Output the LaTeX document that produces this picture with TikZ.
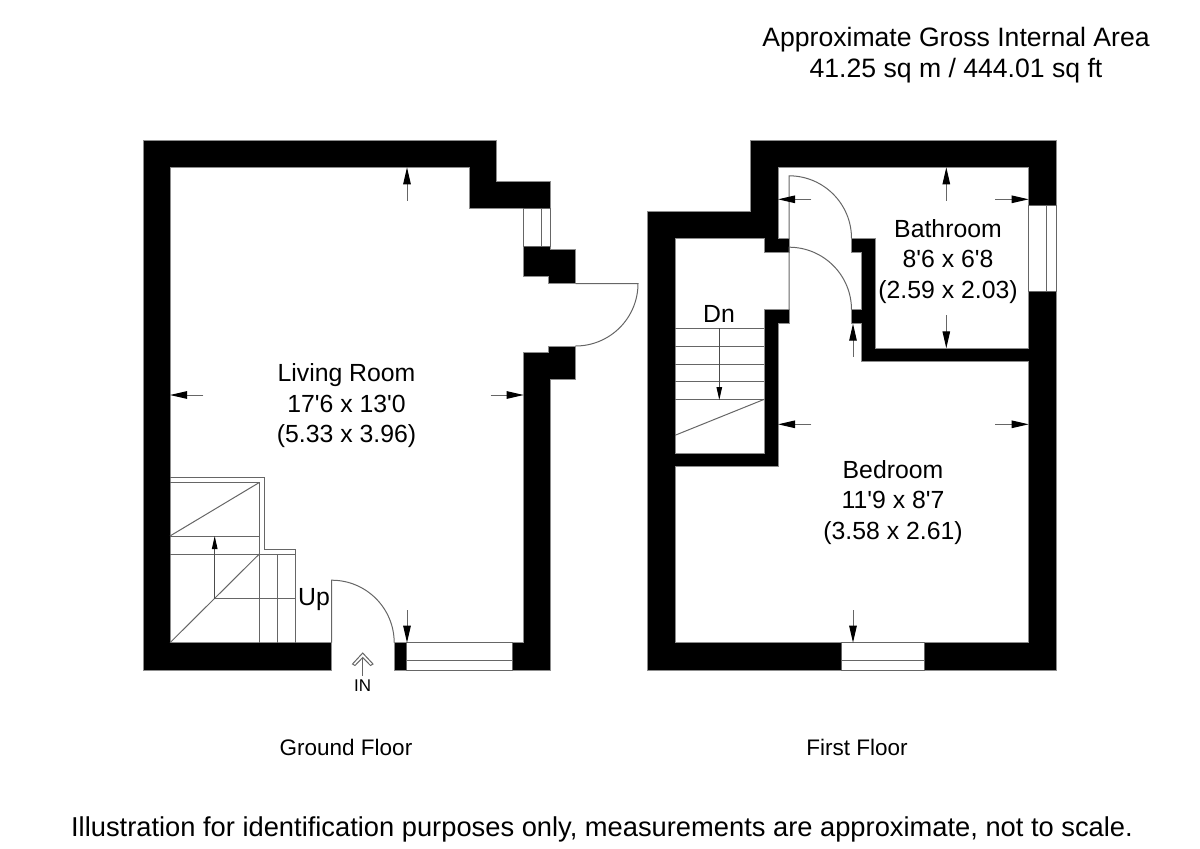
\documentclass[tikz,border=0pt]{standalone}
\usepackage{fontspec}
\setmainfont{Liberation Sans}[Ligatures=TeXOff]
\usetikzlibrary{arrows.meta}
\tikzset{>=Latex}

\begin{document}
\begin{tikzpicture}[
x=1pt, y=-1pt,
wall/.style={fill=black, draw=black!45, line width=0.6pt},
thinline/.style={draw=black!60, line width=1pt},
opening/.style={fill=white, draw=black!60, line width=1pt},
dimarrow/.style={draw=black!60, line width=1pt, -{Triangle[length=17pt, width=7.5pt, black]}},
stairarrow/.style={draw=black!70, line width=1pt, -{Triangle[length=13pt, width=5.5pt, black]}},
roomlabel/.style={align=center, font=\fontsize{24.8}{30.5}\selectfont},
floorlabel/.style={align=center, font=\fontsize{22.5}{27}\selectfont},
arealabel/.style={align=center, font=\fontsize{26.6}{30.5}\selectfont},
]
\useasboundingbox (0,0) rectangle (1200,849);

%Ground floor walls
\fill[wall] (331.7,670) -- (143,670) -- (143,140) -- (496,140) -- (496,181) -- (550.7,181) -- (550.7,208.5) -- (469,208.5) -- (469,167.3) -- (170,167.3) -- (170,642.7) -- (331.7,642.7) -- cycle;
\fill[wall] (523.7,246.7) -- (550.7,246.7) -- (550.7,249.5) -- (575.5,249.5) -- (575.5,283.5) -- (548.5,283.5) -- (548.5,276.5) -- (523.7,276.5) -- cycle;
\fill[wall] (548.5,346) -- (575.5,346) -- (575.5,379.5) -- (550.7,379.5) -- (550.7,670) -- (512.7,670) -- (512.7,642.7) -- (523.7,642.7) -- (523.7,352.5) -- (548.5,352.5) -- cycle;
\fill[wall] (394,642.7) rectangle (406.7,670);

%Ground floor windows and doors
\draw[opening] (523.7,208.5) rectangle (550.7,246.7);
\draw[thinline] (541.3,208.5) -- (541.3,246.7);
\draw[opening] (406.7,642.7) rectangle (512.7,670);
\draw[thinline] (406.7,660.7) -- (512.7,660.7);
\draw[thinline] (575.5,283.5) -- (638,283.5) arc (0:90:62.5);
\draw[thinline] (331.7,642.7) -- (331.7,580.2) arc (-90:0:62.5);

%Ground floor stairs
\draw[thinline] (170,477.7) -- (264,477.7) -- (264,549) -- (295.3,549) -- (295.3,642.7);
\draw[thinline] (170,482.5) -- (259.3,482.5) -- (259.3,642.7);
\draw[thinline] (170,536) -- (259.3,482.5);
\draw[thinline] (170,642.7) -- (259.3,554);
\draw[thinline] (170,536) -- (259.3,536);
\draw[thinline] (170,554) -- (295.3,554);
\draw[thinline] (277.3,554) -- (277.3,642.7);
\draw[thinline] (214.7,598.7) -- (295.3,598.7);
\draw[stairarrow] (214.7,598.7) -- (214.7,536);

%First floor walls
\fill[wall] (841.3,670) -- (647.7,670) -- (647.7,211.3) -- (750.7,211.3) -- (750.7,140) -- (1056,140) -- (1056,205) -- (1028.7,205) -- (1028.7,167.3) -- (778,167.3) -- (778,238.3) -- (789,238.3) -- (789,252) -- (764.3,252) -- (764.3,238.3) -- (675,238.3) -- (675,453.3) -- (764.3,453.3) -- (764.3,309.7) -- (789,309.7) -- (789,323.7) -- (778,323.7) -- (778,466.7) -- (675,466.7) -- (675,642.7) -- (841.3,642.7) -- cycle;
\fill[wall] (851.3,238.3) -- (875.3,238.3) -- (875.3,348.3) -- (1028.7,348.3) -- (1028.7,291) -- (1056,291) -- (1056,670) -- (924.3,670) -- (924.3,642.7) -- (1028.7,642.7) -- (1028.7,361.7) -- (861.3,361.7) -- (861.3,323.7) -- (851.3,323.7) -- (851.3,309.7) -- (861.3,309.7) -- (861.3,252) -- (851.3,252) -- cycle;

%First floor windows and doors
\draw[opening] (1028.7,205) rectangle (1056,291);
\draw[thinline] (1046.3,205) -- (1046.3,291);
\draw[opening] (841.3,642.7) rectangle (924.3,670);
\draw[thinline] (841.3,660.7) -- (924.3,660.7);
\draw[thinline] (789,238.3) -- (789,175.8) arc (-90:0:62.5);
\draw[thinline] (789,309.7) -- (789,247.2) arc (-90:0:62.5);

%First floor stairs
\foreach \ypos in {328.3,346,364,381.7,399.3} {
\draw[thinline] (675,\ypos) -- (764.3,\ypos);
}
\draw[thinline] (675,435.3) -- (764.3,399.3);
\draw[stairarrow] (719.3,328.3) -- (719.3,400);

%Dimension arrows
\draw[dimarrow] (407,200.7) -- (407,167.3);
\draw[dimarrow] (203.3,395) -- (170,395);
\draw[dimarrow] (490.7,395) -- (523.7,395);
\draw[dimarrow] (407,610) -- (407,642.7);
\draw[dimarrow] (946.3,200.7) -- (946.3,167.3);
\draw[dimarrow] (811.3,199.3) -- (778,199.3);
\draw[dimarrow] (995.3,199.3) -- (1028.7,199.3);
\draw[dimarrow] (946.3,315) -- (946.3,348.3);
\draw[dimarrow] (853,356.7) -- (853,323.7);
\draw[dimarrow] (811.3,424.3) -- (778,424.3);
\draw[dimarrow] (995.3,424.3) -- (1028.7,424.3);
\draw[dimarrow] (853,610) -- (853,642.7);

%Entrance arrow
\draw[thinline] (362.7,676) -- (362.7,657.5);
\draw[thinline] (352.5,664) -- (362.7,653) -- (373,664) -- (370.5,665.5) -- (362.7,657.5) -- (355,665.5) -- cycle;

%Nodes
\node[roomlabel](Living Room) at (346.5,406){Living Room\\ 17'6 x 13'0\\ (5.33 x 3.96)};
\node[roomlabel](Bathroom) at (948,261.5){Bathroom\\ 8'6 x 6'8\\ (2.59 x 2.03)};
\node[roomlabel](Bedroom) at (893,502.5){Bedroom\\ 11'9 x 8'7\\ (3.58 x 2.61)};
\node[roomlabel](Up) at (314,600){Up};
\node[roomlabel](Dn) at (719,314){Dn};
\node[font=\fontsize{17}{20}\selectfont](IN) at (362.7,686){IN};
\node[floorlabel](Ground Floor) at (346,747){Ground Floor};
\node[floorlabel](First Floor) at (857,747){First Floor};
\node[arealabel](Area) at (956,55){Approximate Gross Internal Area\\ 41.25 sq m / 444.01 sq ft};
\node[font=\fontsize{27.3}{32}\selectfont](Disclaimer) at (602,829){Illustration for identification purposes only, measurements are approximate, not to scale.};

\end{tikzpicture}
\end{document}
